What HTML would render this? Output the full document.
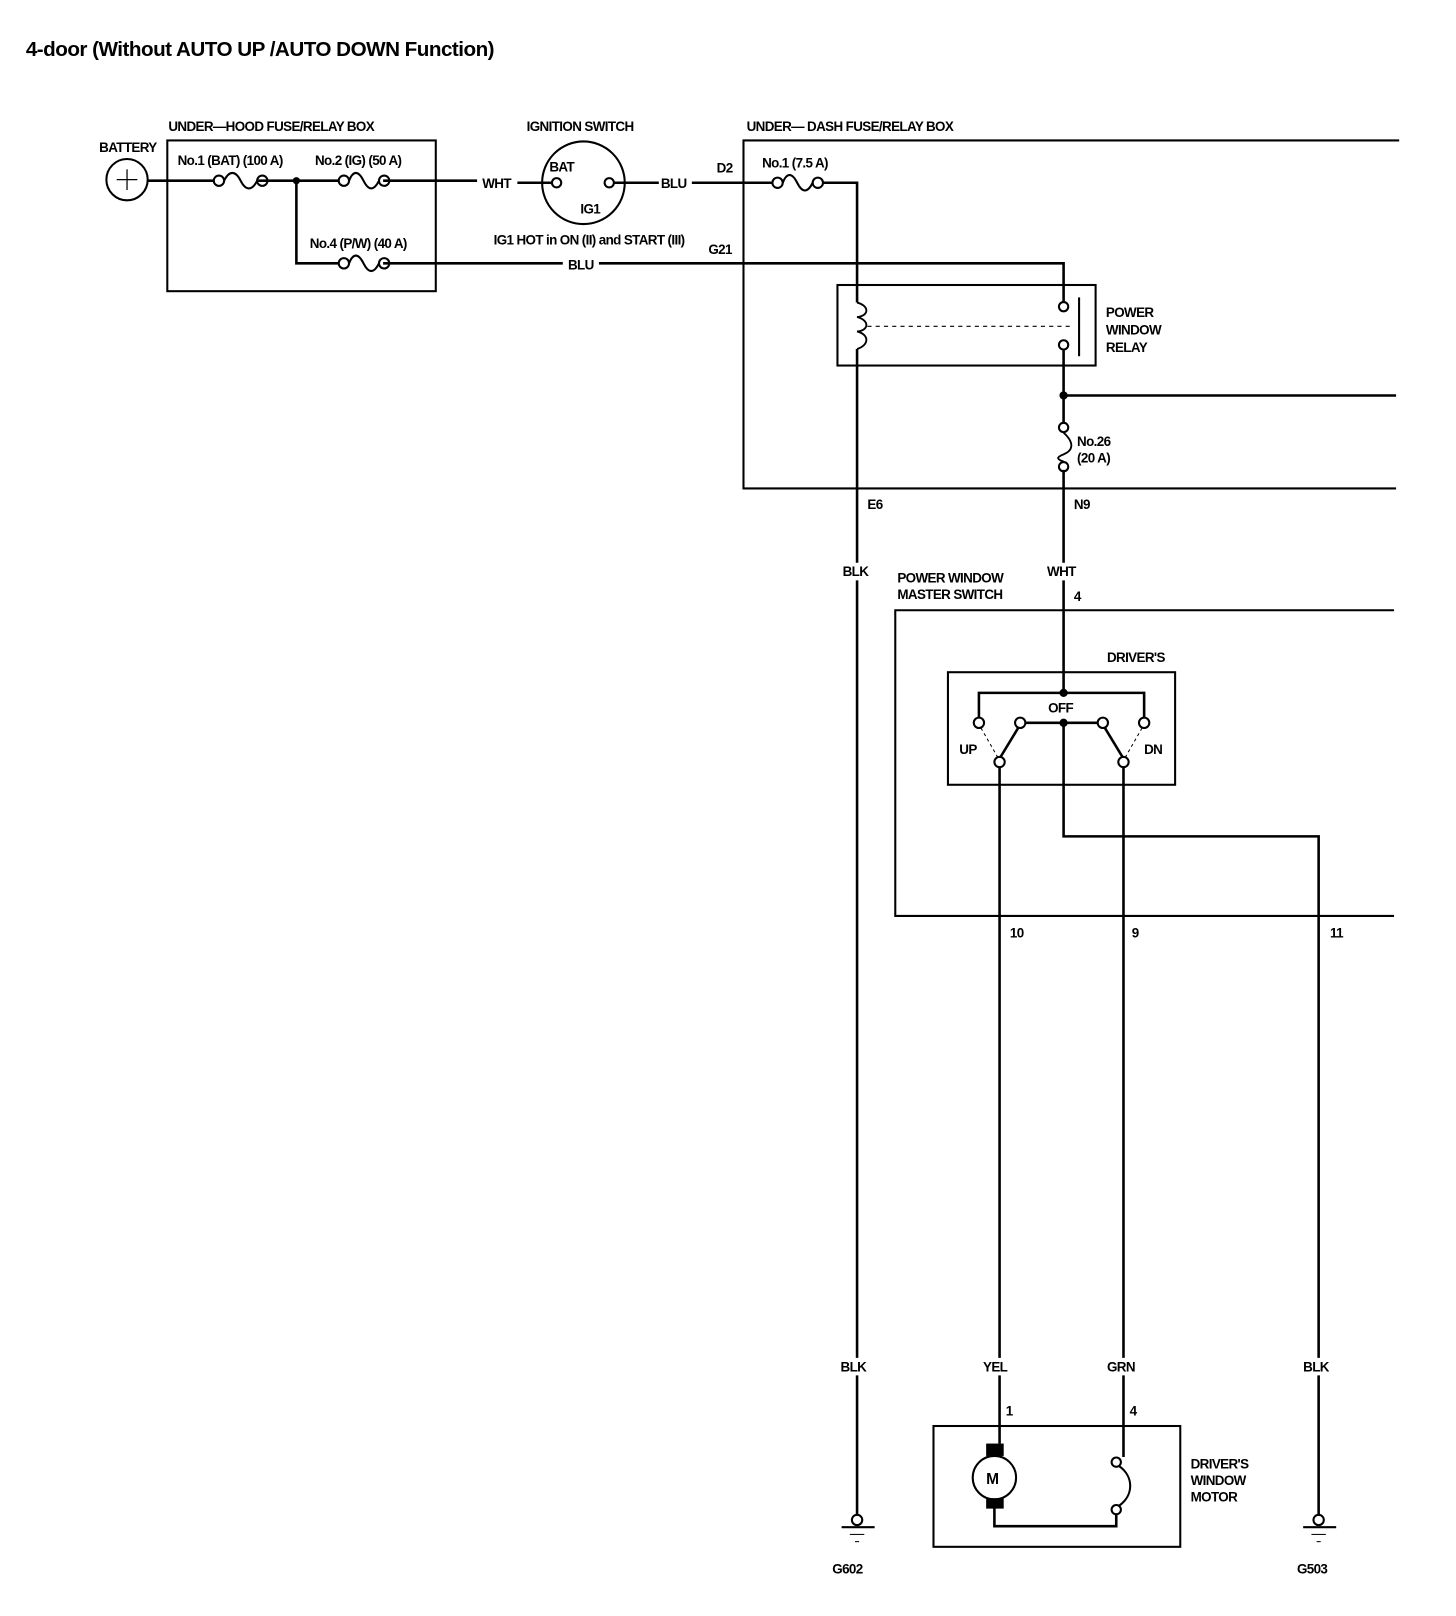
<!DOCTYPE html>
<html><head><meta charset="utf-8"><style>
body{margin:0;background:#fff}
svg{display:block}
text{font-family:"Liberation Sans",sans-serif;font-weight:bold;font-size:13px;fill:#000;letter-spacing:-0.6px}
</style></head><body>
<svg width="1456" height="1616" viewBox="0 0 1410 1565" xmlns="http://www.w3.org/2000/svg">
<g stroke="#000" fill="none" stroke-width="2.5">
<rect x="162" y="136" width="260" height="146" stroke-width="2"/>
<circle cx="123" cy="174" r="20" stroke-width="2"/>
<line x1="113" y1="174" x2="133" y2="174" stroke-width="1.2"/><line x1="123" y1="164" x2="123" y2="184" stroke-width="1.2"/>
<path d="M143 175H207M250 175H328M371 175H462M501 177H534"/>
<path d="M287 175V255H328M371 255H545M580 255H1030V293"/>
<g stroke-width="2">
<circle cx="212" cy="175" r="5"/><circle cx="254" cy="175" r="5"/><path d="M217 175C222 165 228 165 233 175S244 185 249 175"/>
<circle cx="333" cy="175" r="5"/><circle cx="372" cy="175" r="5"/><path d="M338 175C342 165 347 165 352 175S362 185 367 175"/>
<circle cx="333" cy="255" r="5"/><circle cx="372" cy="255" r="5"/><path d="M338 255C342 245 347 245 352 255S362 265 367 255"/>
<circle cx="753" cy="177" r="5"/><circle cx="792" cy="177" r="5"/><path d="M758 177C762 167 767 167 772 177S782 187 787 177"/>
</g>
<circle cx="565" cy="177" r="40" stroke-width="2"/>
<circle cx="539" cy="177" r="4.5" stroke-width="2"/><circle cx="590" cy="177" r="4.5" stroke-width="2"/>
<path d="M595 177H638M670 177H748M797 177H830V293"/>
<path d="M1355 136H720V473H1352" stroke-width="2"/>
<rect x="811" y="276" width="250" height="78" stroke-width="2"/>
<path d="M830 293C842 296 842 306 830 307C842 310 842 320 830 321C842 324 842 334 830 338" stroke-width="1.8"/>
<path d="M830 338V545M830 562V1315M830 1332V1467"/>
<circle cx="1030" cy="297" r="4.5" stroke-width="2"/><circle cx="1030" cy="334" r="4.5" stroke-width="2"/>
<line x1="1045" y1="288" x2="1045" y2="345" stroke-width="2"/>
<line x1="840" y1="316" x2="1040" y2="316" stroke-width="1" stroke-dasharray="4 4"/>
<path d="M1030 339V410M1030 455V545M1030 562V671M1030 383H1352"/>
<circle cx="1030" cy="414" r="4.5" stroke-width="2"/><circle cx="1030" cy="452" r="4.5" stroke-width="2"/>
<path d="M1030 419C1040 428 1040 436 1030 440C1022 443 1024 445 1030 447" stroke-width="1.8"/>
<path d="M1350 591H867V887H1350" stroke-width="2"/>
<rect x="918" y="651" width="220" height="109" stroke-width="2"/>
<path d="M948 696V671H1108V696"/>
<path d="M992 700H1064M1030 700V810H1277V1315M1277 1332V1467"/>
<g stroke-width="2" fill="#fff">
<circle cx="948" cy="700" r="5"/><circle cx="1108" cy="700" r="5"/>
<circle cx="988" cy="700" r="5"/><circle cx="1068" cy="700" r="5"/>
<circle cx="968" cy="738" r="5"/><circle cx="1088" cy="738" r="5"/>
</g>
<path d="M986 705L969 733M1070 705L1087 733"/>
<path d="M950 705L966 733M1106 705L1090 733" stroke-width="1" stroke-dasharray="3 3"/>
<path d="M968 743V1315M968 1332V1398M1088 743V1315M1088 1332V1411"/>
<rect x="904" y="1381" width="239" height="117" stroke-width="2"/>
<circle cx="963" cy="1431" r="21" stroke-width="2"/>
<path d="M963 1460V1478H1081V1467"/>
<circle cx="1081" cy="1416" r="4.5" stroke-width="2"/><circle cx="1081" cy="1462" r="4.5" stroke-width="2"/>
<path d="M1084 1420C1098 1430 1098 1448 1084 1458" stroke-width="2"/>
<g stroke-width="2">
<circle cx="830" cy="1472" r="5" fill="#fff"/><line x1="815" y1="1479" x2="847" y2="1479"/><line x1="823" y1="1486" x2="837" y2="1486" stroke-width="1"/><line x1="828" y1="1493" x2="832" y2="1493" stroke-width="1"/>
<circle cx="1277" cy="1472" r="5" fill="#fff"/><line x1="1262" y1="1479" x2="1294" y2="1479"/><line x1="1270" y1="1486" x2="1284" y2="1486" stroke-width="1"/><line x1="1275" y1="1493" x2="1279" y2="1493" stroke-width="1"/>
</g>
</g>
<g fill="#000">
<circle cx="287" cy="175" r="3.5"/><circle cx="1030" cy="383" r="4"/><circle cx="1030" cy="671" r="4"/><circle cx="1030" cy="700" r="4"/>
<rect x="955" y="1398" width="17" height="12"/><rect x="955" y="1451" width="17" height="10"/>
</g>
<text x="25" y="54" style="font-size:20px;letter-spacing:-0.5px">4-door (Without AUTO UP /AUTO DOWN Function)</text>
<text x="96" y="147">BATTERY</text>
<text x="163" y="127">UNDER—HOOD FUSE/RELAY BOX</text>
<text x="172" y="160">No.1 (BAT) (100 A)</text>
<text x="305" y="160">No.2 (IG) (50 A)</text>
<text x="300" y="240">No.4 (P/W) (40 A)</text>
<text x="510" y="127">IGNITION SWITCH</text>
<text x="532" y="166">BAT</text><text x="562" y="207">IG1</text>
<text x="467" y="182">WHT</text><text x="640" y="182">BLU</text>
<text x="478" y="237">IG1 HOT in ON (II) and START (III)</text>
<text x="550" y="261">BLU</text><text x="686" y="246">G21</text><text x="694" y="167">D2</text>
<text x="723" y="127">UNDER— DASH FUSE/RELAY BOX</text>
<text x="738" y="162">No.1 (7.5 A)</text>
<text x="1071" y="307">POWER</text><text x="1071" y="324">WINDOW</text><text x="1071" y="341">RELAY</text>
<text x="1043" y="432">No.26</text><text x="1043" y="448">(20 A)</text>
<text x="840" y="493">E6</text><text x="1040" y="493">N9</text>
<text x="816" y="558">BLK</text><text x="1014" y="558">WHT</text>
<text x="869" y="564">POWER WINDOW</text><text x="869" y="580">MASTER SWITCH</text>
<text x="1040" y="582">4</text><text x="1072" y="641">DRIVER'S</text>
<text x="1015" y="690">OFF</text><text x="929" y="730">UP</text><text x="1108" y="730">DN</text>
<text x="978" y="908">10</text><text x="1096" y="908">9</text><text x="1288" y="908">11</text>
<text x="814" y="1328">BLK</text><text x="952" y="1328">YEL</text><text x="1072" y="1328">GRN</text><text x="1262" y="1328">BLK</text>
<text x="974" y="1371">1</text><text x="1094" y="1371">4</text>
<text x="955" y="1437" style="font-size:15px">M</text>
<text x="1153" y="1422">DRIVER'S</text><text x="1153" y="1438">WINDOW</text><text x="1153" y="1454">MOTOR</text>
<text x="806" y="1524">G602</text><text x="1256" y="1524">G503</text>
</svg>
</body></html>
